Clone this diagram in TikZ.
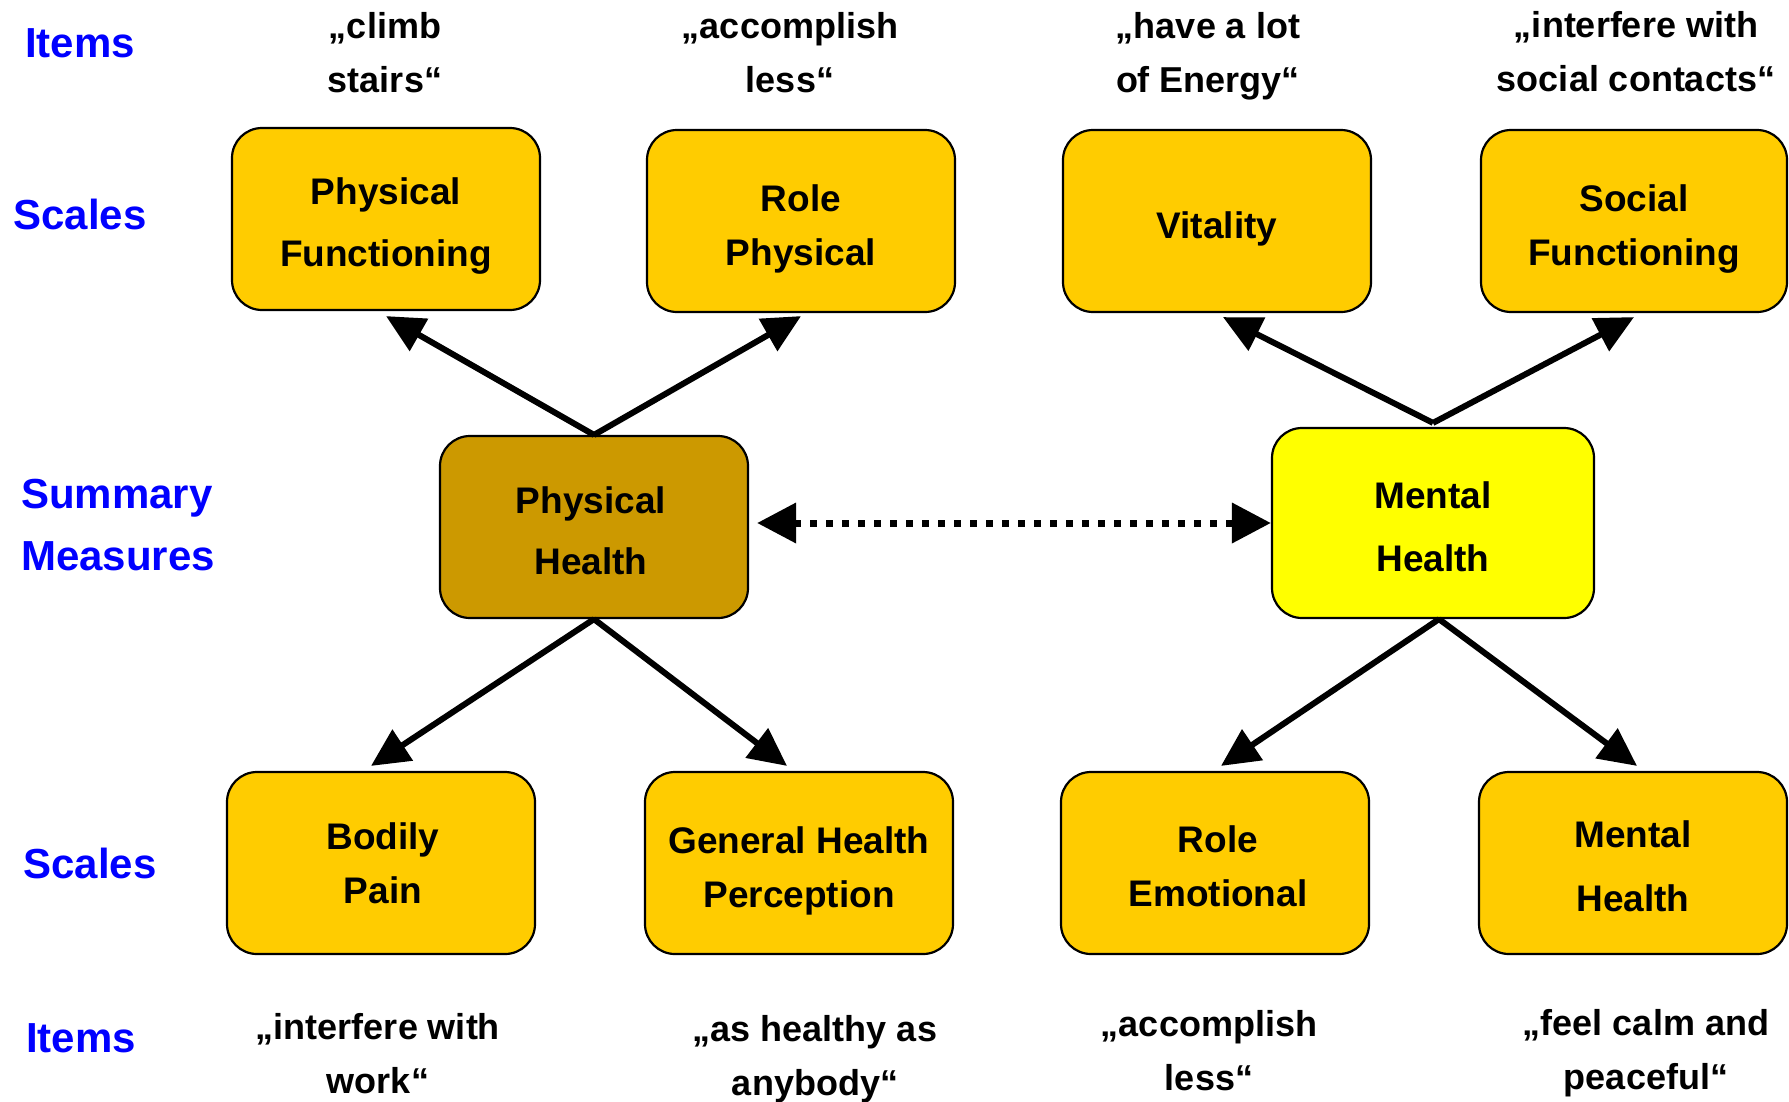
\documentclass[tikz,border=0pt]{standalone}
\usepackage{fontspec}
\setmainfont{Liberation Sans}
\usetikzlibrary{arrows.meta}
\definecolor{gold}{HTML}{FFCC00}
\definecolor{darkgold}{HTML}{CC9900}
\definecolor{brightyellow}{HTML}{FFFF00}
\definecolor{labelblue}{HTML}{0000FF}
\begin{document}
\begin{tikzpicture}[x=1pt,y=-1pt,
  box/.style={draw=black, line width=2.2pt, rounded corners=30pt, fill=gold,
    minimum width=308pt, minimum height=182pt, inner sep=0pt},
  boxtext/.style={align=center, inner sep=0pt, font=\bfseries\fontsize{37}{54}\selectfont},
  itemtext/.style={align=center, inner sep=0pt, font=\bfseries\fontsize{36}{54}\selectfont},
  bluelabel/.style={text=labelblue, inner sep=0pt, font=\bfseries\fontsize{42}{62}\selectfont},
  arr/.style={line width=6pt, -{Triangle[length=38pt,width=36pt]}},
  dotarr/.style={line width=7pt, dash pattern=on 7pt off 9pt,
    {Triangle[length=39pt,width=39pt]}-{Triangle[length=39pt,width=39pt]}}
]
\useasboundingbox (0,0) rectangle (1789,1101);
\fill[white] (0,0) rectangle (1789,1101);

% blue row labels
\node[bluelabel] (itemsT) at (80,43) {Items};
\node[bluelabel] (scalesT) at (80,214) {Scales};
\node[bluelabel, anchor=west, align=left] (summary) at (21,525) {Summary\\Measures};
\node[bluelabel] (scalesB) at (90,863) {Scales};
\node[bluelabel] (itemsB) at (81,1038) {Items};

% top items
\node[itemtext] (i1) at (385,53) {„climb\\stairs“};
\node[itemtext] (i2) at (790,53) {„accomplish\\less“};
\node[itemtext] (i3) at (1208,56) {„have a lot\\of Energy“};
\node[itemtext] (i4) at (1636,52) {„interfere with\\social contacts“};

% top scales
\node[box] (PF) at (386,219) {};
\node[box] (RP) at (801,221) {};
\node[box] (VT) at (1217,221) {};
\node[box, minimum width=306pt] (SF) at (1634,221) {};
\node[boxtext, font=\bfseries\fontsize{37}{62}\selectfont] (PFt) at ([yshift=-7pt]PF.center) {Physical\\Functioning};
\node[boxtext] (RPt) at ([yshift=-8pt]RP.center) {Role\\Physical};
\node[boxtext] (VTt) at ([yshift=-8pt]VT.center) {Vitality};
\node[boxtext] (SFt) at ([yshift=-8pt]SF.center) {Social\\Functioning};

% summary measures
\node[box, fill=darkgold] (PH) at (594,527) {};
\node[box, fill=brightyellow, minimum width=322pt, minimum height=190pt] (MH) at (1433,523) {};
\node[boxtext, font=\bfseries\fontsize{37}{61}\selectfont] (PHt) at ([xshift=-3pt,yshift=-4pt]PH.center) {Physical\\Health};
\node[boxtext, font=\bfseries\fontsize{37}{63}\selectfont] (MHt) at ([yshift=-4pt]MH.center) {Mental\\Health};

% bottom scales
\node[box] (BP) at (381,863) {};
\node[box] (GH) at (799,863) {};
\node[box] (RE) at (1215,863) {};
\node[box] (MHs) at (1633,863) {};
\node[boxtext] (BPt) at ([xshift=2pt]BP.center) {Bodily\\Pain};
\node[boxtext] (GHt) at ([yshift=-8pt]GH.center) {General Health\\Perception};
\node[boxtext] (REt) at ([xshift=3pt,yshift=-3pt]RE.center) {Role\\Emotional};
\node[boxtext, font=\bfseries\fontsize{37}{64}\selectfont] (MHst) at ([yshift=-3pt]MHs.center) {Mental\\Health};

% bottom items
\node[itemtext] (j1) at (378,1054) {„interfere with\\work“};
\node[itemtext] (j2) at (815,1059) {„as healthy as\\anybody“};
\node[itemtext] (j3) at (1209,1051) {„accomplish\\less“};
\node[itemtext] (j4) at (1646,1053) {„feel calm and\\peaceful“};

% arrows
\draw[arr] (PH.north) -- ([yshift=-5pt]PF.south);
\draw[arr] (PH.north) -- ([yshift=-3pt]RP.south);
\draw[arr] ([yshift=4pt]MH.north) -- ([xshift=6pt,yshift=-4pt]VT.south);
\draw[arr] ([yshift=4pt]MH.north) -- ([yshift=-4pt]SF.south);
\draw[arr] (PH.south) -- ([xshift=-10pt,yshift=5pt]BP.north);
\draw[arr] (PH.south) -- ([xshift=-12pt,yshift=5pt]GH.north);
\draw[arr] ([xshift=6pt]MH.south) -- ([xshift=6pt,yshift=5pt]RE.north);
\draw[arr] ([xshift=6pt]MH.south) -- ([xshift=4pt,yshift=5pt]MHs.north);

\draw[dotarr] ([xshift=8pt,yshift=4pt]PH.east) -- ([yshift=4pt]PH.east -| MH.west);
\end{tikzpicture}
\end{document}
